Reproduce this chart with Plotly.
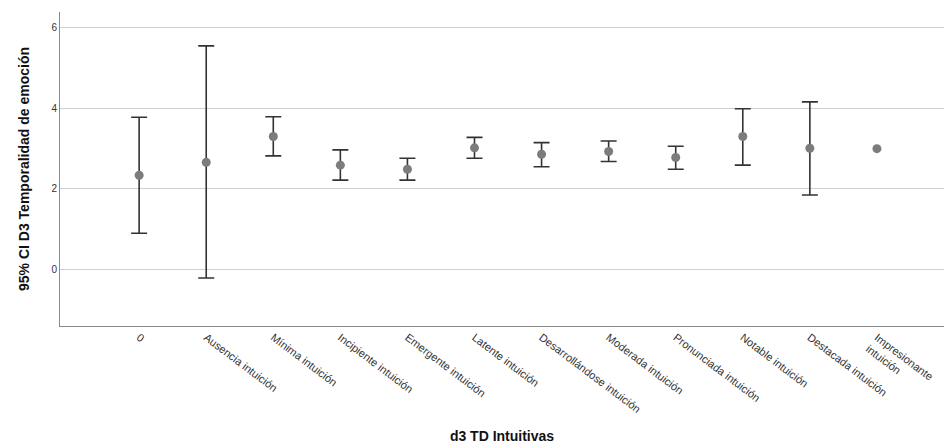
import plotly.graph_objects as go

categories = ["0", "Ausencia intuición", "Mínima intuición", "Incipiente intuición",
              "Emergente intuición", "Latente intuición", "Desarrollándose intuición",
              "Moderada intuición", "Pronunciada intuición", "Notable intuición",
              "Destacada intuición", "Impresionante<br>intuición"]
means = [2.34, 2.66, 3.30, 2.59, 2.49, 3.02, 2.86, 2.93, 2.78, 3.30, 3.01, 3.00]
upper = [3.78, 5.55, 3.79, 2.97, 2.76, 3.28, 3.15, 3.19, 3.06, 3.99, 4.16, None]
lower = [0.90, -0.21, 2.82, 2.22, 2.22, 2.76, 2.55, 2.68, 2.49, 2.59, 1.85, None]
y_ticks = [0, 2, 4, 6]

idx = list(range(len(categories)))
err_plus = [(u - m) if u is not None else 0 for u, m in zip(upper, means)]
err_minus = [(m - l) if l is not None else 0 for l, m in zip(lower, means)]
vis = [u is not None for u in upper]

fig = go.Figure()
fig.add_trace(go.Scatter(
    x=[i for i, v in zip(idx, vis) if v],
    y=[m for m, v in zip(means, vis) if v],
    mode="markers",
    marker=dict(size=1, color="rgba(0,0,0,0)"),
    error_y=dict(type="data", symmetric=False,
                 array=[e for e, v in zip(err_plus, vis) if v],
                 arrayminus=[e for e, v in zip(err_minus, vis) if v],
                 color="#333333", thickness=1.6, width=8),
    showlegend=False, hoverinfo="skip"))
fig.add_trace(go.Scatter(
    x=idx, y=means, mode="markers",
    marker=dict(size=9, color="#7c7c7c"),
    showlegend=False))

fig.update_layout(
    width=944, height=444,
    margin=dict(l=60, r=0, t=12, b=118),
    paper_bgcolor="white", plot_bgcolor="white",
    font=dict(family="Liberation Sans, Arial, sans-serif", color="#222"),
    xaxis=dict(
        range=[-1.18, 12.0],
        tickmode="array", tickvals=idx, ticktext=categories,
        tickangle=37, tickfont=dict(size=11, color="#333"),
        showgrid=False, zeroline=False,
        showline=True, linecolor="#888", linewidth=1,
        ticks="",
        title=dict(text="<b>d3 TD Intuitivas</b>", font=dict(size=14, color="#111"), standoff=18),
    ),
    yaxis=dict(
        range=[-1.40, 6.39],
        tickmode="array", tickvals=y_ticks,
        tickfont=dict(size=10, color="#333"),
        showgrid=True, gridcolor="#cfcfcf", gridwidth=1,
        zeroline=False,
        showline=True, linecolor="#888", linewidth=1,
        ticks="", ticklen=0,
        title=dict(text="<b>95% CI D3 Temporalidad de emoción</b>", font=dict(size=14, color="#111"), standoff=18),
    ),
)

fig.write_html("out.html")
